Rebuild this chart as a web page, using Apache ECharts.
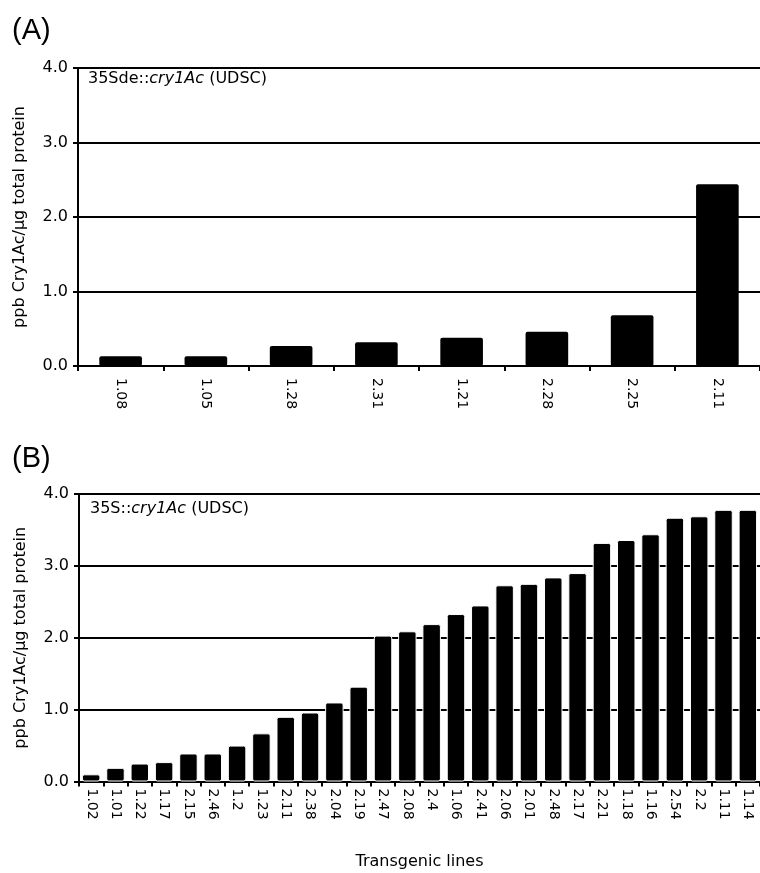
<!DOCTYPE html>
<html>
<head>
<meta charset="utf-8">
<script src="https://cdn.jsdelivr.net/npm/echarts@6/dist/echarts.min.js"></script>
<style>
  html, body { margin: 0; padding: 0; background: #fff; }
  #chart { width: 760px; height: 873px; }
</style>
</head>
<body>
<div id="chart"></div>
<script>
// (A) 35Sde::cry1Ac lines
const linesA = ['1.08', '1.05', '1.28', '2.31', '1.21', '2.28', '2.25', '2.11']
const cry1AcA = [0.13, 0.13, 0.27, 0.32, 0.38, 0.46, 0.68, 2.44]

// (B) 35S::cry1Ac lines
const linesB = ['1.02', '1.01', '1.22', '1.17', '2.15', '2.46', '1.2', '1.23', '2.11', '2.38',
  '2.04', '2.19', '2.47', '2.08', '2.4', '1.06', '2.41', '2.06', '2.01', '2.48',
  '2.17', '2.21', '1.18', '1.16', '2.54', '2.2', '1.11', '1.14']
const cry1AcB = [0.10, 0.19, 0.25, 0.27, 0.39, 0.39, 0.50, 0.67, 0.90, 0.96,
  1.10, 1.32, 2.03, 2.09, 2.19, 2.33, 2.45, 2.73, 2.75, 2.84,
  2.90, 3.32, 3.36, 3.44, 3.67, 3.69, 3.78, 3.78]

const yTicks = [0, 1, 2, 3, 4]
const yName = 'ppb Cry1Ac/µg total protein'

const FONT = 'DejaVu Sans'
const BLACK = '#000'

function yAxisOpt(gridIndex) {
  return {
    gridIndex,
    type: 'value',
    min: yTicks[0],
    max: yTicks[yTicks.length - 1],
    interval: 1,
    name: yName,
    nameLocation: 'middle',
    nameGap: 50,
    nameTextStyle: { color: BLACK, fontSize: 16, fontFamily: FONT },
    axisLine: { show: true, lineStyle: { color: BLACK, width: 2 } },
    axisTick: { show: true, length: 5, lineStyle: { color: BLACK, width: 2 } },
    axisLabel: {
      color: BLACK, fontSize: 16, fontFamily: FONT, margin: 10,
      formatter: v => v.toFixed(1),
    },
    splitLine: { show: true, lineStyle: { color: BLACK, width: 2 } },
  }
}

function xAxisOpt(gridIndex, cats, labelMargin) {
  return {
    gridIndex,
    type: 'category',
    data: cats,
    axisLine: { show: true, lineStyle: { color: BLACK, width: 2 } },
    axisTick: { show: true, length: 5, alignWithLabel: false, lineStyle: { color: BLACK, width: 2 } },
    axisLabel: {
      color: BLACK, fontSize: 14, fontFamily: FONT, rotate: -90,
      interval: 0, margin: labelMargin,
    },
  }
}

const chart = echarts.init(document.getElementById('chart'), null, { renderer: 'canvas' })

// 注释文字：基因型斜体
const noteRich = {
  n: { fontSize: 16, fontFamily: FONT, fill: BLACK },
  i: { fontSize: 16, fontFamily: FONT, fontStyle: 'italic', fill: BLACK },
}

chart.setOption({
  animation: false,
  backgroundColor: '#fff',
  grid: [
    { left: 78, right: -3, top: 68, height: 298 },
    { left: 79, right: -8, top: 494, height: 287.5 },
  ],
  xAxis: [
    xAxisOpt(0, linesA, 12),
    Object.assign(xAxisOpt(1, linesB, 7), {
      name: 'Transgenic lines',
      nameLocation: 'middle',
      nameGap: 72,
      nameTextStyle: { color: BLACK, fontSize: 16, fontFamily: FONT },
    }),
  ],
  yAxis: [yAxisOpt(0), yAxisOpt(1)],
  series: [
    {
      type: 'bar',
      xAxisIndex: 0, yAxisIndex: 0,
      data: cry1AcA,
      barCategoryGap: '50%',
      itemStyle: { color: BLACK, borderRadius: 2 },
    },
    {
      type: 'bar',
      xAxisIndex: 1, yAxisIndex: 1,
      data: cry1AcB,
      barCategoryGap: '24%',
      itemStyle: { color: BLACK, borderRadius: 2, borderColor: '#fff', borderWidth: 1 },
    },
  ],
  graphic: [
    { type: 'text', left: 12, top: 16, style: { text: '(A)', fontSize: 29, fontFamily: 'Liberation Sans', fill: BLACK } },
    { type: 'text', left: 12, top: 444, style: { text: '(B)', fontSize: 29, fontFamily: 'Liberation Sans', fill: BLACK } },
    { type: 'text', left: 88, top: 71, style: { text: '{n|35Sde::}{i|cry1Ac}{n| (UDSC)}', rich: noteRich } },
    { type: 'text', left: 90, top: 501, style: { text: '{n|35S::}{i|cry1Ac}{n| (UDSC)}', rich: noteRich } },
  ],
})

window.addEventListener('resize', () => chart.resize())
</script>
</body>
</html>
